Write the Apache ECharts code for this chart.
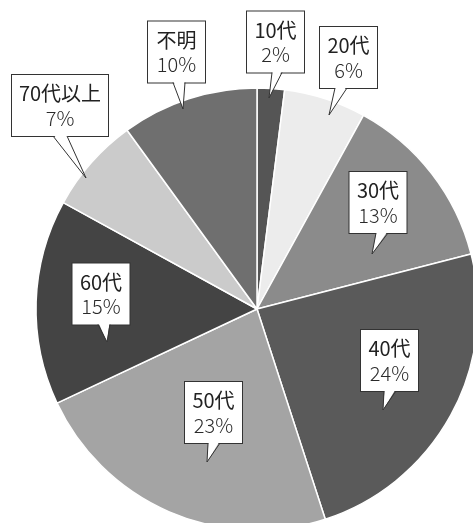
<!DOCTYPE html>
<html>
<head>
<meta charset="utf-8">
<script src="https://cdn.jsdelivr.net/npm/echarts@6/dist/echarts.min.js"></script>
<style>
html,body{margin:0;padding:0;background:#fff;}
#c{width:473px;height:523px;}
</style>
</head>
<body>
<div id="c"></div>
<script>
// ---- data ----
const categories = ['10代', '20代', '30代', '40代', '50代', '60代', '70代以上', '不明'];
const values = [2, 6, 13, 24, 23, 15, 7, 10];

// ---- styles / annotation layout ----
const sliceColors = ['#555555', '#ececec', '#8b8b8b', '#5a5a5a', '#a4a4a4', '#444444', '#cbcbcb', '#6f6f6f'];
const boxCenters = [[275.5, 42], [348.5, 57.5], [378, 202.5], [389.5, 360.5], [213.5, 412.5], [101, 294], [60, 105.5], [176.5, 52]];
const boxWidths = [43, 43, 43, 43, 43, 43, 82, 43];
const tailBases = [[272, 282], [335, 347], [376, 388], [384, 396], [208, 220], [98, 110], [53, 67], [173, 185]];
const tailTips = [[269, 98], [329, 115], [372, 254], [383, 410], [207, 462], [107, 342], [86, 178], [183, 109]];
const BOX_H = 61;

const chart = echarts.init(document.getElementById('c'), null, {renderer: 'canvas'});

const data = categories.map((name, i) => ({
  name: name,
  value: values[i],
  itemStyle: {color: sliceColors[i]},
  label: {width: boxWidths[i]}
}));

const graphics = [];
categories.forEach((n, i) => {
  const by = boxCenters[i][1] + BOX_H / 2;
  const [bl, br] = tailBases[i];
  const tip = tailTips[i];
  graphics.push({
    type: 'polygon', z: 100, silent: true,
    shape: {points: [[bl + 0.5, by - 1.5], [br - 0.5, by - 1.5], tip]},
    style: {fill: '#ffffff', stroke: null}
  });
  graphics.push({
    type: 'polyline', z: 101, silent: true,
    shape: {points: [[bl, by], tip, [br, by]]},
    style: {stroke: '#333333', lineWidth: 1, fill: null}
  });
});

chart.setOption({
  backgroundColor: '#ffffff',
  animation: false,
  graphic: graphics,
  series: [{
    type: 'pie',
    center: [257, 309],
    radius: 221,
    startAngle: 90,
    clockwise: true,
    data: data,
    itemStyle: {borderColor: '#ffffff', borderWidth: 1.5},
    labelLine: {show: false},
    label: {
      show: true,
      position: 'inside',
      formatter: '{n|{b}}\n{p|{c}%}',
      backgroundColor: '#ffffff',
      borderColor: '#333333',
      borderWidth: 1,
      padding: [6, 7, 7, 7],
      height: 48,
      overflow: 'none',
      align: 'center',
      rich: {
        n: {fontFamily: '"Noto Sans CJK JP", sans-serif', fontSize: 20, lineHeight: 25, color: '#222222', fontWeight: 'normal', align: 'center'},
        p: {fontFamily: '"Noto Sans CJK JP", sans-serif', fontSize: 20, lineHeight: 24, color: '#2a2a2a', fontWeight: 300, align: 'center'}
      }
    },
    labelLayout: function (params) {
      const c = boxCenters[params.dataIndex];
      return {x: c[0], y: c[1], align: 'center', verticalAlign: 'middle'};
    }
  }]
});
</script>
</body>
</html>
